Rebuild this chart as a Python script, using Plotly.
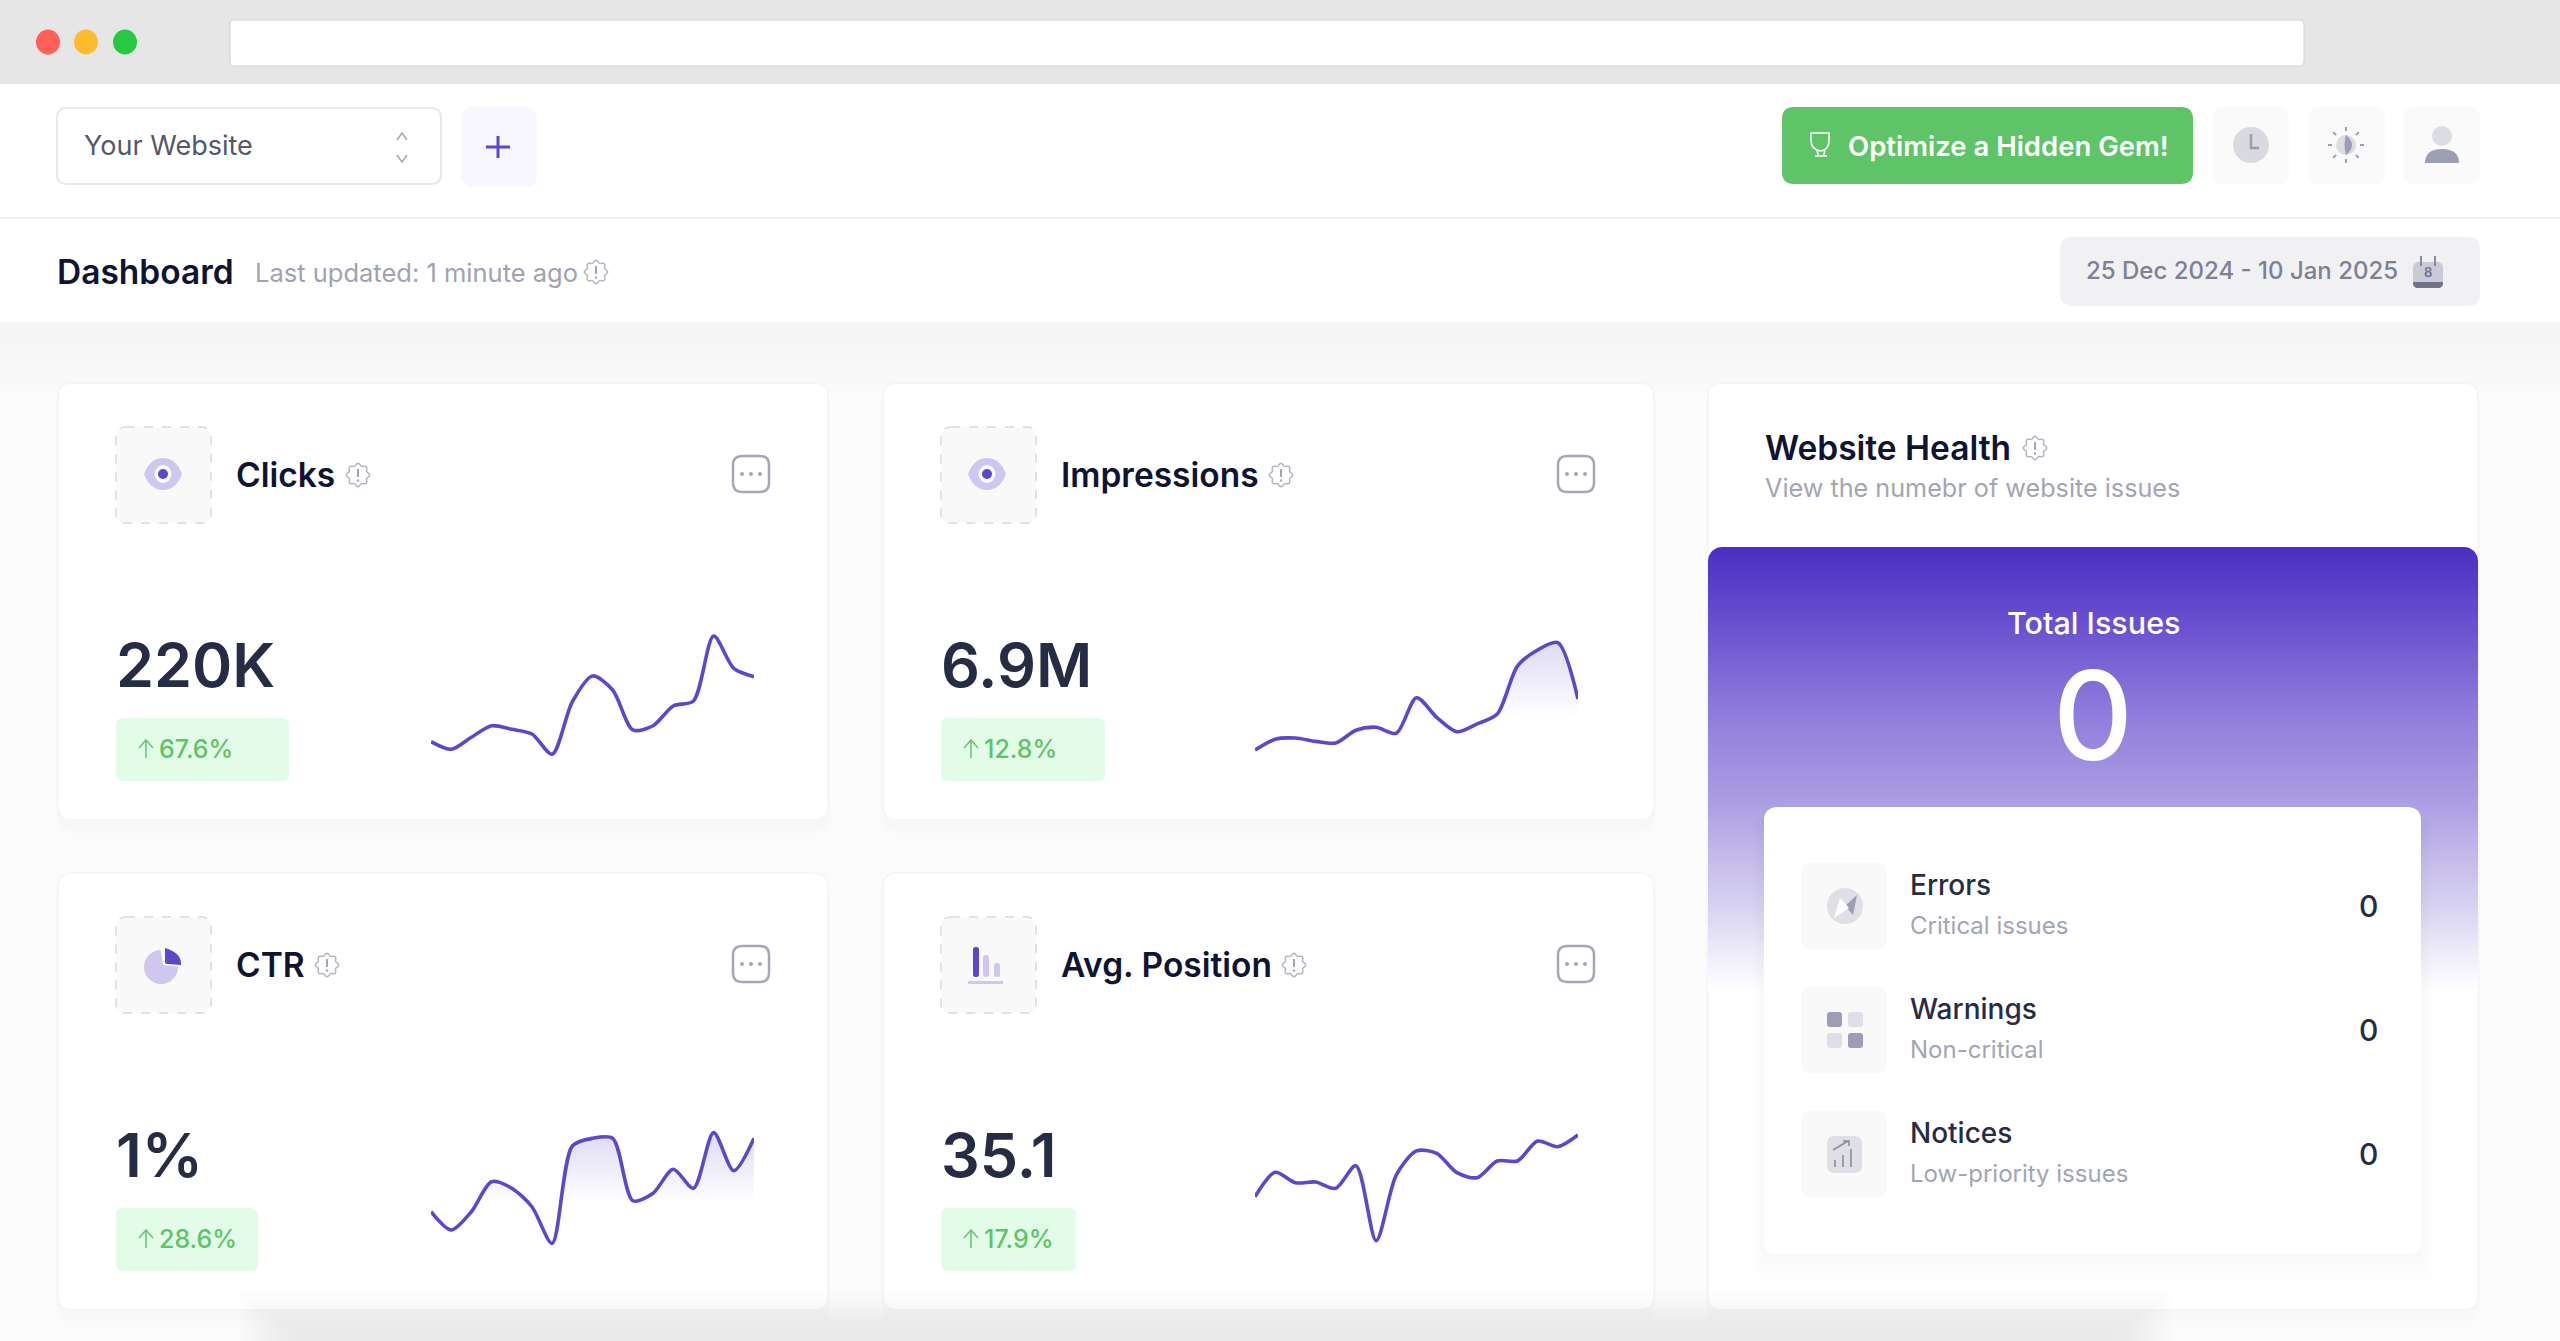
import numpy as np
import plotly.graph_objects as go

# daily values, read off the sparklines (relative scale 0-100, the cards have no axis)
dates = ["2024-12-25", "2024-12-26", "2024-12-27", "2024-12-28", "2024-12-29", "2024-12-30",
         "2024-12-31", "2025-01-01", "2025-01-02", "2025-01-03", "2025-01-04", "2025-01-05",
         "2025-01-06", "2025-01-07", "2025-01-08", "2025-01-09", "2025-01-10"]
clicks = [18.9, 13.8, 21.8, 29.5, 27.1, 24.0, 10.5, 45.5, 62.7, 53.3, 26.7, 29.5, 42.7, 46.0, 89.3, 67.8, 62.2]
impressions = [13.3, 20.5, 21.3, 19.1, 18.0, 26.5, 28.5, 24.5, 48.2, 35.1, 25.5, 30.7, 37.3, 69.3, 80.0, 84.9, 47.3]
ctr = [32.2, 20.0, 32.2, 52.2, 47.8, 35.5, 11.1, 76.0, 81.1, 81.1, 39.5, 44.5, 60.5, 47.8, 84.9, 59.5, 81.1]
avg_position = [42.2, 58.5, 51.5, 52.0, 47.8, 62.9, 12.9, 56.7, 72.7, 71.1, 58.2, 54.9, 66.0, 66.0, 79.3, 75.5, 83.3]

card_titles = ["Clicks", "Impressions", "CTR", "Avg. Position"]
card_values = ["220K", "6.9M", "1%", "35.1"]
card_changes = ["67.6%", "12.8%", "28.6%", "17.9%"]
issue_names = ["Errors", "Warnings", "Notices"]
issue_notes = ["Critical issues", "Non-critical", "Low-priority issues"]
issue_counts = [0, 0, 0]
total_issues = 0

W, H = 2560, 1341
PURPLE = "#5f47cc"
LILAC = "#cfc7f0"
DARK = "#0f1433"
INK = "#262c44"
GREY = "#a3a5b4"
GREEN = "#5ec467"
ICON_DARK = "#9c9eb3"
ICON_LIGHT = "#dfe0e5"

shapes = []
annots = []


def rr_path(x0, y0, x1, y1, r):
    return (f"M{x0 + r},{y0} L{x1 - r},{y0} Q{x1},{y0} {x1},{y0 + r} L{x1},{y1 - r} Q{x1},{y1} {x1 - r},{y1} "
            f"L{x0 + r},{y1} Q{x0},{y1} {x0},{y1 - r} L{x0},{y0 + r} Q{x0},{y0} {x0 + r},{y0} Z")


def rrect(x0, y0, x1, y1, r, fill, line=None, lw=0, dash=None, layer="above"):
    shapes.append(dict(type="path", path=rr_path(x0, y0, x1, y1, r), fillcolor=fill, layer=layer, xref="x", yref="y",
                       line=dict(color=line or "rgba(0,0,0,0)", width=lw, dash=dash or "solid")))


def rect(x0, y0, x1, y1, fill, layer="above"):
    shapes.append(dict(type="rect", x0=x0, y0=y0, x1=x1, y1=y1, fillcolor=fill, layer=layer, xref="x", yref="y",
                       line=dict(width=0)))


def ell(cx, cy, rx, ry, fill, line=None, lw=0):
    shapes.append(dict(type="circle", x0=cx - rx, x1=cx + rx, y0=cy - ry, y1=cy + ry, fillcolor=fill, layer="above",
                       xref="x", yref="y", line=dict(color=line or "rgba(0,0,0,0)", width=lw)))


def path(d, line=None, lw=2, fill="rgba(0,0,0,0)"):
    shapes.append(dict(type="path", path=d, fillcolor=fill, layer="above", xref="x", yref="y",
                       line=dict(color=line or "rgba(0,0,0,0)", width=lw)))


def text(x, y, s, size, color, weight=400, anchor="left"):
    annots.append(dict(x=x, y=y, xref="x", yref="y", text=s, showarrow=False, xanchor=anchor, yanchor="middle",
                       font=dict(family="Inter", size=size, color=color, weight=weight), borderpad=0))


def info_icon(cx, cy):
    t = np.linspace(0, 2 * np.pi, 65)
    r = 10.5 + 1.2 * np.cos(8 * t)
    pts = " L".join(f"{cx + a:.1f},{cy + b:.1f}" for a, b in zip(r * np.sin(t), r * np.cos(t)))
    path("M" + pts + " Z", line="#b4b6c3", lw=1.5)
    path(f"M{cx},{cy - 6} L{cx},{cy + 2}", line="#a3a5b4", lw=2)
    ell(cx, cy + 5.5, 1.2, 1.2, "#a3a5b4")


def eye_icon(cx, cy):
    path(f"M{cx - 19},{cy} Q{cx - 13},{cy - 16} {cx},{cy - 16} Q{cx + 13},{cy - 16} {cx + 19},{cy} "
         f"Q{cx + 13},{cy + 16} {cx},{cy + 16} Q{cx - 13},{cy + 16} {cx - 19},{cy} Z", fill=LILAC)
    ell(cx, cy, 8.5, 9, "#fafafc")
    ell(cx, cy, 5, 5, PURPLE)


def pie_icon(cx, cy):
    t = np.linspace(np.radians(8), np.radians(278), 40)
    pts = " L".join(f"{cx + 17 * np.sin(a + np.pi / 2 - 0.15):.1f},{cy - 17 * np.cos(a + np.pi / 2 - 0.15):.1f}" for a in t)
    path(f"M{cx + 2},{cy - 2} L" + pts + " Z", fill=LILAC)
    path(f"M{cx + 4},{cy - 19} Q{cx + 21},{cy - 14} {cx + 20},{cy - 2} L{cx + 7},{cy - 3} Q{cx + 4},{cy - 3} {cx + 4},{cy - 5} Z",
         fill=PURPLE)


def bars_icon(x, y):
    rrect(x, y, x + 6, y + 30, 2.5, PURPLE)
    rrect(x + 10, y + 8, x + 16, y + 30, 2.5, LILAC)
    rrect(x + 21, y + 16, x + 27, y + 30, 2.5, LILAC)
    rect(x - 5, y + 34, x + 30, y + 37, LILAC)


def more_button(cx, cy):
    rrect(cx - 18, cy - 18, cx + 18, cy + 18, 9, "#ffffff", line="#a5a6b6", lw=2.5)
    for dx in (-9, 0, 9):
        ell(cx + dx, cy, 2, 2, "#a5a6b6")


def up_arrow(cx, cy):
    path(f"M{cx - 7},{cy - 1} L{cx},{cy - 9} L{cx + 7},{cy - 1} M{cx},{cy - 9} L{cx},{cy + 9}", line="#6fc678", lw=1.6)


def card(x0, y0, x1, y1):
    for k in range(4):
        rrect(x0 - 2, y0 + 4, x1 + 2, y1 + 3 + k * 4, 14, "rgba(40,40,60,0.005)", layer="below")
    rrect(x0, y0, x1, y1, 14, "#ffffff", line="#f6f6f7", lw=2, layer="below")


# page background
rect(0, 0, W, H, "#fbfbfb", layer="below")
rect(0, 0, W, 322, "#ffffff", layer="below")
for i in range(10):
    rect(0, 322 + i * 8, W, 330 + i * 8, f"rgb({245 + i * 6 // 9},{245 + i * 6 // 9},{246 + i * 5 // 9})", layer="below")
rect(0, 0, W, 84, "#e6e6e6", layer="below")
rect(0, 217, W, 219, "#f0f0f2", layer="below")
rrect(230, 20, 2304, 66, 4, "#ffffff", line="#d4d4d4", lw=1, layer="below")
for cx, col in zip((48, 86, 125), ("#fe5f57", "#febb2e", "#28c840")):
    ell(cx, 42, 12, 12.5, col)

# top bar
rrect(57, 108, 441, 184, 10, "#ffffff", line="#e8e8ea", lw=2)
text(83, 145, "Your Website", 27, "#55576b")
path("M397,140 L402,133 L407,140", line="#a5a6b6", lw=1.5)
path("M397,155 L402,162 L407,155", line="#a5a6b6", lw=1.5)
rrect(461, 107, 537, 187, 12, "#f8f7fd")
path("M486,147 L510,147 M498,136 L498,158", line=PURPLE, lw=3)

rrect(1782, 107, 2193, 184, 12, GREEN)
text(1847, 146, "Optimize a Hidden Gem!", 27.5, "#ffffff", 600)
path("M1811,133 L1829,133 L1829,140 Q1829,150 1821,151 Q1811,150 1811,140 Z M1817,151 L1818,154 L1818,156 "
     "L1824,156 L1824,154 L1825,151 M1815,156 L1827,156", line="#ffffff", lw=1.6)
for x0 in (2212, 2308, 2403):
    rrect(x0, 107, x0 + 77, 184, 12, "#fafafb")
ell(2251, 145, 18, 18, "#d9dae0")
path("M2251,134 L2251,148 L2259,148", line="#9a9cb0", lw=2.5)
ell(2346, 145, 10, 10, "#dcdde2")
path("M2346,135 Q2358,145 2346,155 Q2343,145 2346,135 Z", fill=ICON_DARK)
for a in np.radians(np.arange(0, 360, 45)):
    path(f"M{2346 + 14 * np.sin(a):.1f},{145 + 14 * np.cos(a):.1f} L{2346 + 18 * np.sin(a):.1f},{145 + 18 * np.cos(a):.1f}",
         line=ICON_DARK, lw=2)
ell(2442, 136, 10, 10, "#dcdde2")
path("M2425,163 Q2425,149 2442,149 Q2459,149 2459,163 Z", fill=ICON_DARK)

# title row
text(56, 272, "Dashboard", 33.5, DARK, 600)
text(254, 272, "Last updated: 1 minute ago", 25.5, "#a0a2b1")
info_icon(596, 272)
rrect(2060, 237, 2480, 306, 12, "#f1f1f4")
text(2085, 270, "25 Dec 2024 - 10 Jan 2025", 24, "#7e8094", 500)
rrect(2413, 262, 2443, 288, 6, "#c9cad6")
path("M2413,282 L2443,282 L2443,283 Q2443,288 2438,288 L2418,288 Q2413,288 2413,283 Z", fill="#70728a")
path("M2421,256 L2421,266 M2435,256 L2435,266", line="#8a8ca0", lw=2)
text(2428, 272, "8", 13, "#70728a", 600, "center")

# metric cards
card_x = [(58, 828), (883, 1654)]
card_y = [(383, 820), (873, 1310)]
badge_r = [289, 1105, 258, 1076]
info_x = [358, 1281, 327, 1294]
for i in range(4):
    x0, x1 = card_x[i % 2]
    y0, y1 = card_y[i // 2]
    card(x0, y0, x1, y1)
    lx = x0 + 58
    rrect(lx, y0 + 44, lx + 95, y0 + 140, 10, "#f9f9fa", line="#d9d9dc", lw=1.5, dash="dash")
    text(lx + 119, y0 + 92, card_titles[i], 33.5, DARK, 600)
    info_icon(info_x[i], y0 + 92)
    more_button(x0 + 693, y0 + 91)
    text(lx - 1, y0 + 282, card_values[i], 61, INK, 600)
    rrect(lx, y0 + 335, badge_r[i], y0 + 398, 7, "#e3fce8")
    up_arrow(lx + 30, y0 + 366)
    text(lx + 42, y0 + 366, card_changes[i], 25, GREEN, 500)
eye_icon(163, 474)
eye_icon(987, 474)
pie_icon(161, 967)
bars_icon(973, 947)

# website health card
card(1708, 383, 2478, 1310)
text(1764, 448, "Website Health", 33.5, DARK, 600)
info_icon(2035, 448)
text(1764, 488, "View the numebr of website issues", 25.2, GREY)
text(2093, 622, "Total Issues", 30.5, "#ffffff", 500, "center")
text(2093, 715, str(total_issues), 124, "#ffffff", 500, "center")

for k in range(7):
    rrect(1764 - k * 2, 810 + k, 2421 + k * 2, 1256 + k * 5, 16, "rgba(40,40,70,0.005)")
rrect(1764, 807, 2421, 1254, 14, "#ffffff")
row_y = [906, 1030, 1154]
for k in range(3):
    rrect(1801, row_y[k] - 43, 1887, row_y[k] + 43, 10, "#f9f9fa")
    text(1909, row_y[k] - 21, issue_names[k], 28, INK, 500)
    text(1909, row_y[k] + 19, issue_notes[k], 24, GREY)
    text(2368, row_y[k], str(issue_counts[k]), 30, INK, 500, "center")
ell(1845, 906, 18, 18, ICON_LIGHT)
path("M1857,895 L1853,915 L1845,906 Z", fill=ICON_DARK)
path("M1834,918 L1840,898 L1849,908 Z", fill="#ffffff")
for gx, gy, col in [(1827, 1012, ICON_DARK), (1848, 1012, ICON_LIGHT), (1827, 1033, ICON_LIGHT), (1848, 1033, ICON_DARK)]:
    rrect(gx, gy, gx + 15, gy + 15, 3, col)
rrect(1827, 1136, 1862, 1173, 8, ICON_LIGHT)
path("M1835,1167 L1835,1160 M1843,1167 L1843,1155 M1851,1167 L1851,1149 M1833,1150 L1848,1141 M1843,1141 L1849,1141 L1849,1146",
     line="#8b8da0", lw=1.6)

# soft grey band along the bottom edge, laid over the cards
for k, top in enumerate([1290, 1298, 1305, 1308, 1310, 1313, 1317, 1321, 1325, 1330, 1335]):
    rect(240 + k * 6, top, 2170 - k * 6, H, "rgba(215,215,215,0.055)")


def rounded_top(x0, y0, x1, y1, r):
    t = np.linspace(0, np.pi / 2, 12)
    xs = list(x0 + r - r * np.cos(t)) + list(x1 - r + r * np.sin(t)) + [x1, x0, x0]
    ys = list(y0 + r - r * np.sin(t)) + list(y0 + r - r * np.cos(t)) + [y1, y1, y0 + r]
    return xs, ys


fig = go.Figure()

# purple panel fades out into the card
px, py = rounded_top(1708, 547, 2478, 992, 14)
fig.add_trace(go.Scatter(x=px, y=py, mode="lines", fill="toself", line=dict(width=0), hoverinfo="skip", showlegend=False,
                         fillgradient=dict(type="vertical", start=547, stop=992, colorscale=[
                             [0, "#4a2ec2"], [0.18, "#6a52cf"], [0.37, "#8f7bdc"], [0.58, "#ac9fe3"],
                             [0.66, "#bdb2e8"], [0.81, "#d8d2f1"], [0.92, "#f0eefa"], [1, "#ffffff"]])))

series = [clicks, impressions, ctr, avg_position]
spark_x = [(431, 754), (1255, 1578), (431, 754), (1255, 1578)]
spark_y = [(620, 770), (620, 770), (1110, 1260), (1110, 1260)]
fade = [None, (35, 85), (38, 85), None]
layout_axes = {}
for i, vals in enumerate(series):
    n = i + 2
    tr = dict(x=dates, y=vals, mode="lines", xaxis=f"x{n}", yaxis=f"y{n}", showlegend=False, name=card_titles[i],
              line=dict(color=PURPLE, width=3.6, shape="spline", smoothing=0.8))
    if fade[i]:
        tr["fill"] = "tozeroy"
        tr["fillgradient"] = dict(type="vertical", start=fade[i][0], stop=fade[i][1], colorscale=[
            [0, "rgba(95,71,204,0)"], [1, "rgba(95,71,204,0.2)"]])
    fig.add_trace(go.Scatter(**tr))
    layout_axes[f"xaxis{n}"] = dict(domain=[spark_x[i][0] / W, spark_x[i][1] / W], range=[dates[0], dates[-1]], type="date",
                                    visible=False, fixedrange=True, anchor=f"y{n}")
    layout_axes[f"yaxis{n}"] = dict(domain=[1 - spark_y[i][1] / H, 1 - spark_y[i][0] / H], range=[0, 100],
                                    visible=False, fixedrange=True, anchor=f"x{n}")

fig.update_layout(width=W, height=H, margin=dict(l=0, r=0, t=0, b=0), autosize=False,
                  paper_bgcolor="#fbfbfb", plot_bgcolor="rgba(0,0,0,0)", showlegend=False,
                  xaxis=dict(range=[0, W], visible=False, fixedrange=True),
                  yaxis=dict(range=[H, 0], visible=False, fixedrange=True),
                  shapes=shapes, annotations=annots, **layout_axes)

fig.write_html("out.html", config=dict(displayModeBar=False),
               post_script="document.body.style.margin='0';document.body.style.overflow='hidden';")
